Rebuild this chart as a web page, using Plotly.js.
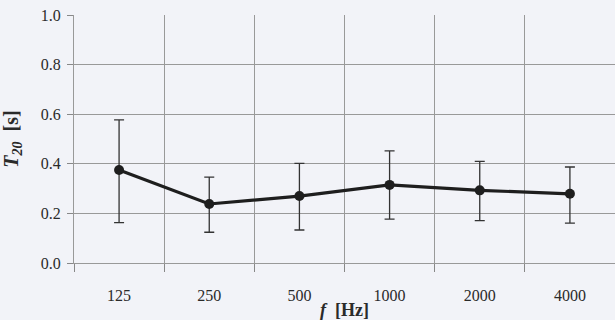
<!DOCTYPE html>
<html>
<head>
<meta charset="utf-8">
<script src="https://cdn.plot.ly/plotly-3.0.1.min.js"></script>
<style>html,body{margin:0;padding:0;background:#f2f3f8;}#chart{width:615px;height:320px;}</style>
</head>
<body>
<div id="chart"></div>
<script>
const frequencies = ["125", "250", "500", "1000", "2000", "4000"];
const t20 = [0.375, 0.238, 0.270, 0.315, 0.293, 0.279];
const errPlus = [0.202, 0.108, 0.132, 0.137, 0.117, 0.108];
const errMinus = [0.212, 0.114, 0.137, 0.138, 0.122, 0.118];
const yTicks = [0, 0.2, 0.4, 0.6, 0.8, 1.0];

const trace = {
  x: frequencies,
  y: t20,
  type: 'scatter',
  mode: 'lines+markers',
  line: {color: '#1e1e1e', width: 3.2},
  marker: {color: '#1e1e1e', size: 10},
  error_y: {type: 'data', symmetric: false, array: errPlus, arrayminus: errMinus,
            color: '#333', thickness: 1.3, width: 5},
  showlegend: false
};

const layout = {
  width: 615, height: 320,
  margin: {l: 74, r: 0, t: 15, b: 57},
  paper_bgcolor: '#f2f3f8',
  plot_bgcolor: '#f2f3f8',
  font: {family: 'Liberation Serif', color: '#2a2a2a', size: 16},
  xaxis: {
    type: 'category',
    range: [-0.5, 5.5],
    tickson: 'boundaries',
    ticks: 'outside', ticklen: 8, tickcolor: '#888', tickwidth: 1,
    showgrid: true, gridcolor: '#999', gridwidth: 1,
    showline: true, linecolor: '#999', linewidth: 1,
    ticklabelstandoff: 18,
    tickfont: {size: 16},
    title: {text: '<b><i>f</i>  [Hz]</b>', font: {size: 18}, standoff: 2},
    zeroline: false
  },
  yaxis: {
    range: [0, 1.0],
    tickvals: yTicks,
    tickformat: '.1f',
    ticks: 'outside', ticklen: 6, tickcolor: '#888', tickwidth: 1,
    showgrid: true, gridcolor: '#999', gridwidth: 1,
    showline: true, linecolor: '#999', linewidth: 1,
    ticklabelstandoff: 3,
    tickfont: {size: 16},
    title: {text: '<b><i>T<sub>20</sub></i>\u00a0\u00a0[s]</b>', font: {size: 20}, standoff: 19},
    zeroline: false
  }
};

Plotly.newPlot('chart', [trace], layout, {displayModeBar: false, staticPlot: true});
</script>
</body>
</html>
